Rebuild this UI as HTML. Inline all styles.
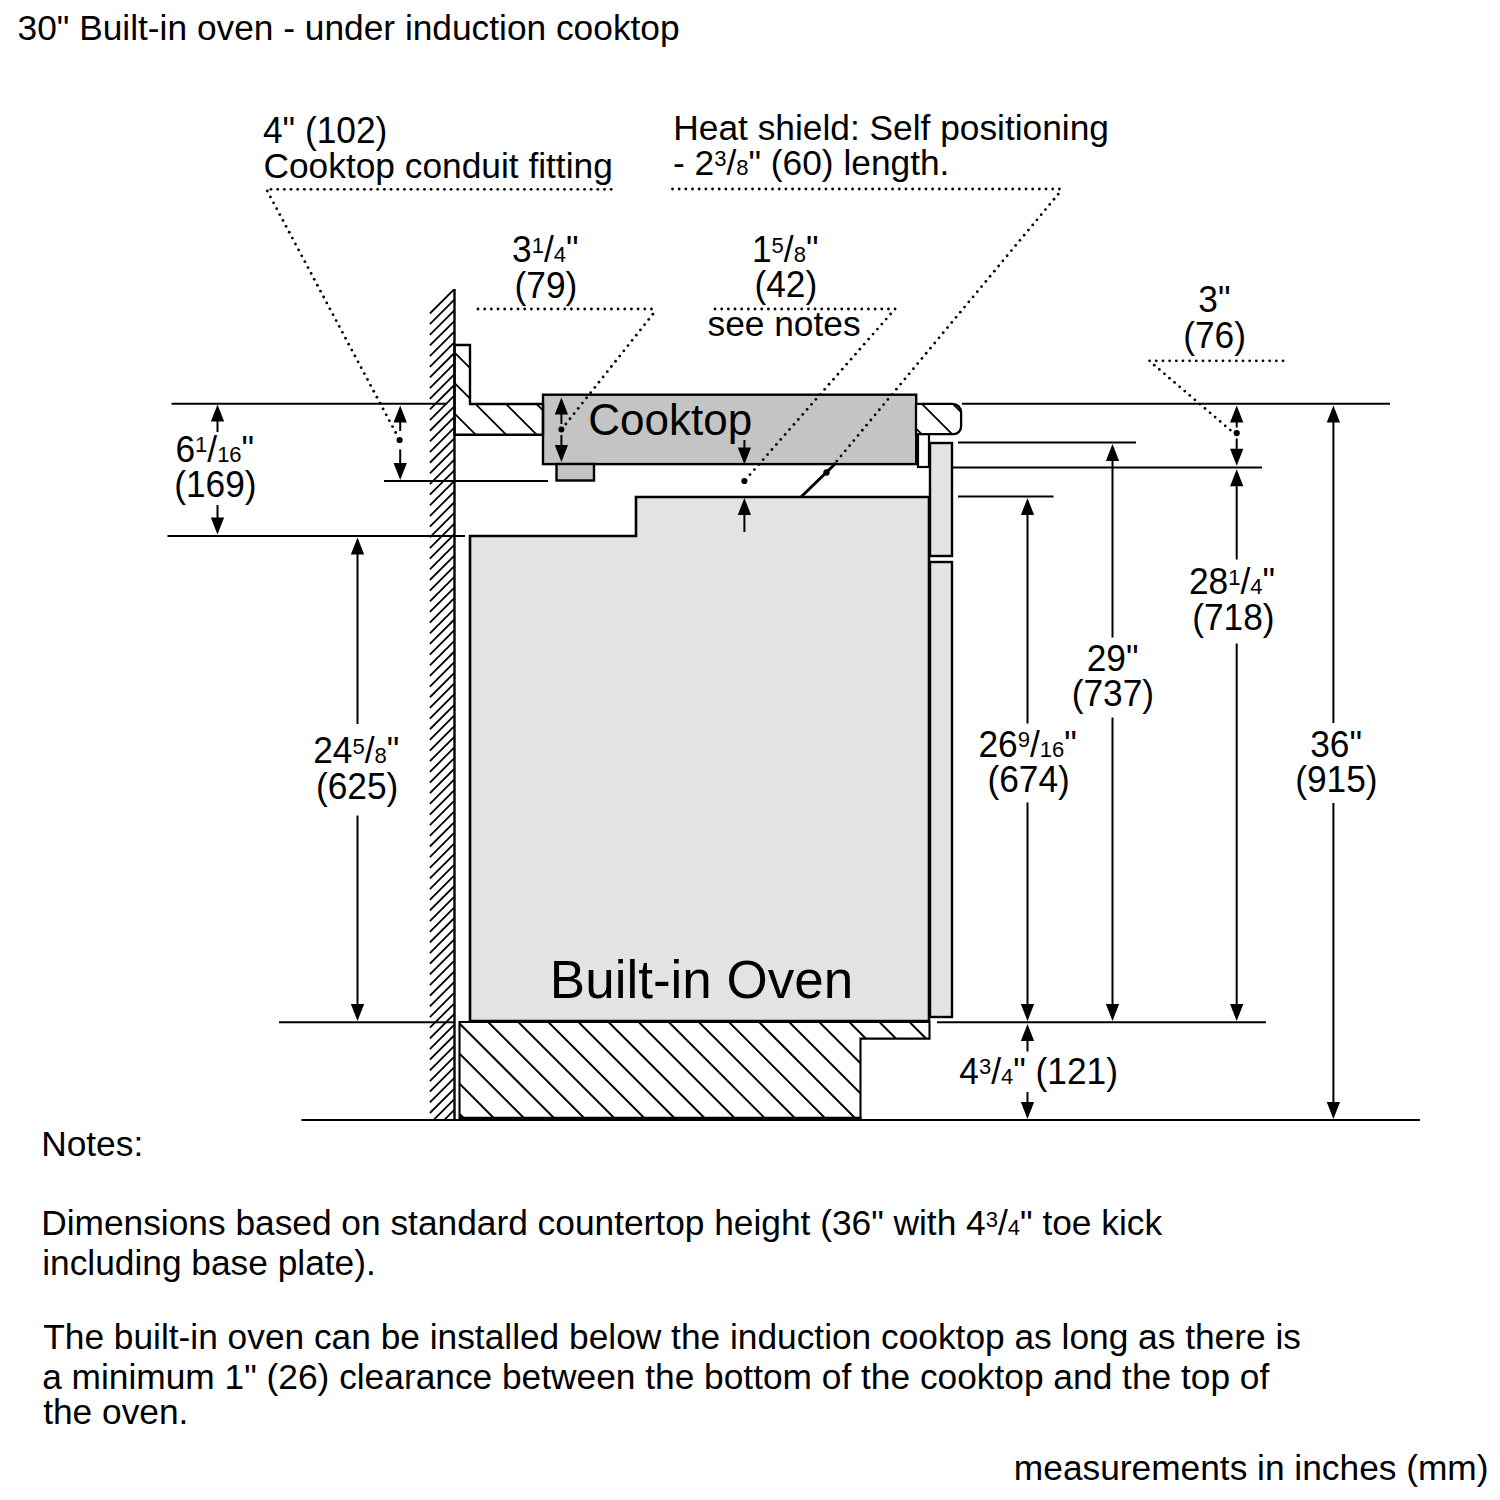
<!DOCTYPE html>
<html><head><meta charset="utf-8"><title>30" Built-in oven - under induction cooktop</title>
<style>html,body{margin:0;padding:0;background:#fff;width:1500px;height:1500px;overflow:hidden}svg{display:block}text{font-family:"Liberation Sans", sans-serif}</style>
</head><body>
<svg width="1500" height="1500" viewBox="0 0 1500 1500" font-family='"Liberation Sans", sans-serif' fill="#000"><polygon points="470,536 636,536 636,497 929,497 929,1021 470,1021" fill="#e3e3e3" stroke="#000" stroke-width="2.6"/>
<rect x="930" y="443" width="22" height="113" fill="#e3e3e3" stroke="#000" stroke-width="2.4"/>
<rect x="930" y="562" width="22" height="455" fill="#e3e3e3" stroke="#000" stroke-width="2.4"/>
<rect x="543" y="394.7" width="373.2" height="69.4" fill="#c4c4c4" stroke="#000" stroke-width="2.4"/>
<rect x="556.5" y="464" width="37.5" height="16.5" fill="#c4c4c4" stroke="#000" stroke-width="2.4"/>
<rect x="918" y="434" width="11" height="33" fill="#fff" stroke="#000" stroke-width="2.2"/>
<line x1="454.5" y1="289" x2="454.5" y2="1120" stroke="#000" stroke-width="2.4" />
<defs><clipPath id="wallclip"><rect x="428" y="289" width="26.5" height="831"/></clipPath><clipPath id="ctclip"><polygon points="454.5,345 470,345 470,404 543,404 543,434.7 454.5,434.7"/></clipPath><clipPath id="tkclip"><polygon points="459.5,1022 929.5,1022 929.5,1038.6 860.5,1038.6 860.5,1118 459.5,1118"/></clipPath><clipPath id="rctclip"><rect x="916" y="404" width="46" height="30" rx="7"/></clipPath></defs>
<g clip-path="url(#wallclip)"><line x1="429.9" y1="313.50" x2="454.1" y2="289.30" stroke="#000" stroke-width="1.8"/><line x1="429.9" y1="324.16" x2="454.1" y2="299.96" stroke="#000" stroke-width="1.8"/><line x1="429.9" y1="334.82" x2="454.1" y2="310.62" stroke="#000" stroke-width="1.8"/><line x1="429.9" y1="345.48" x2="454.1" y2="321.28" stroke="#000" stroke-width="1.8"/><line x1="429.9" y1="356.14" x2="454.1" y2="331.94" stroke="#000" stroke-width="1.8"/><line x1="429.9" y1="366.80" x2="454.1" y2="342.60" stroke="#000" stroke-width="1.8"/><line x1="429.9" y1="377.46" x2="454.1" y2="353.26" stroke="#000" stroke-width="1.8"/><line x1="429.9" y1="388.12" x2="454.1" y2="363.92" stroke="#000" stroke-width="1.8"/><line x1="429.9" y1="398.78" x2="454.1" y2="374.58" stroke="#000" stroke-width="1.8"/><line x1="429.9" y1="409.44" x2="454.1" y2="385.24" stroke="#000" stroke-width="1.8"/><line x1="429.9" y1="420.10" x2="454.1" y2="395.90" stroke="#000" stroke-width="1.8"/><line x1="429.9" y1="430.76" x2="454.1" y2="406.56" stroke="#000" stroke-width="1.8"/><line x1="429.9" y1="441.42" x2="454.1" y2="417.22" stroke="#000" stroke-width="1.8"/><line x1="429.9" y1="452.08" x2="454.1" y2="427.88" stroke="#000" stroke-width="1.8"/><line x1="429.9" y1="462.74" x2="454.1" y2="438.54" stroke="#000" stroke-width="1.8"/><line x1="429.9" y1="473.40" x2="454.1" y2="449.20" stroke="#000" stroke-width="1.8"/><line x1="429.9" y1="484.06" x2="454.1" y2="459.86" stroke="#000" stroke-width="1.8"/><line x1="429.9" y1="494.72" x2="454.1" y2="470.52" stroke="#000" stroke-width="1.8"/><line x1="429.9" y1="505.38" x2="454.1" y2="481.18" stroke="#000" stroke-width="1.8"/><line x1="429.9" y1="516.04" x2="454.1" y2="491.84" stroke="#000" stroke-width="1.8"/><line x1="429.9" y1="526.70" x2="454.1" y2="502.50" stroke="#000" stroke-width="1.8"/><line x1="429.9" y1="537.36" x2="454.1" y2="513.16" stroke="#000" stroke-width="1.8"/><line x1="429.9" y1="548.02" x2="454.1" y2="523.82" stroke="#000" stroke-width="1.8"/><line x1="429.9" y1="558.68" x2="454.1" y2="534.48" stroke="#000" stroke-width="1.8"/><line x1="429.9" y1="569.34" x2="454.1" y2="545.14" stroke="#000" stroke-width="1.8"/><line x1="429.9" y1="580.00" x2="454.1" y2="555.80" stroke="#000" stroke-width="1.8"/><line x1="429.9" y1="590.66" x2="454.1" y2="566.46" stroke="#000" stroke-width="1.8"/><line x1="429.9" y1="601.32" x2="454.1" y2="577.12" stroke="#000" stroke-width="1.8"/><line x1="429.9" y1="611.98" x2="454.1" y2="587.78" stroke="#000" stroke-width="1.8"/><line x1="429.9" y1="622.64" x2="454.1" y2="598.44" stroke="#000" stroke-width="1.8"/><line x1="429.9" y1="633.30" x2="454.1" y2="609.10" stroke="#000" stroke-width="1.8"/><line x1="429.9" y1="643.96" x2="454.1" y2="619.76" stroke="#000" stroke-width="1.8"/><line x1="429.9" y1="654.62" x2="454.1" y2="630.42" stroke="#000" stroke-width="1.8"/><line x1="429.9" y1="665.28" x2="454.1" y2="641.08" stroke="#000" stroke-width="1.8"/><line x1="429.9" y1="675.94" x2="454.1" y2="651.74" stroke="#000" stroke-width="1.8"/><line x1="429.9" y1="686.60" x2="454.1" y2="662.40" stroke="#000" stroke-width="1.8"/><line x1="429.9" y1="697.26" x2="454.1" y2="673.06" stroke="#000" stroke-width="1.8"/><line x1="429.9" y1="707.92" x2="454.1" y2="683.72" stroke="#000" stroke-width="1.8"/><line x1="429.9" y1="718.58" x2="454.1" y2="694.38" stroke="#000" stroke-width="1.8"/><line x1="429.9" y1="729.24" x2="454.1" y2="705.04" stroke="#000" stroke-width="1.8"/><line x1="429.9" y1="739.90" x2="454.1" y2="715.70" stroke="#000" stroke-width="1.8"/><line x1="429.9" y1="750.56" x2="454.1" y2="726.36" stroke="#000" stroke-width="1.8"/><line x1="429.9" y1="761.22" x2="454.1" y2="737.02" stroke="#000" stroke-width="1.8"/><line x1="429.9" y1="771.88" x2="454.1" y2="747.68" stroke="#000" stroke-width="1.8"/><line x1="429.9" y1="782.54" x2="454.1" y2="758.34" stroke="#000" stroke-width="1.8"/><line x1="429.9" y1="793.20" x2="454.1" y2="769.00" stroke="#000" stroke-width="1.8"/><line x1="429.9" y1="803.86" x2="454.1" y2="779.66" stroke="#000" stroke-width="1.8"/><line x1="429.9" y1="814.52" x2="454.1" y2="790.32" stroke="#000" stroke-width="1.8"/><line x1="429.9" y1="825.18" x2="454.1" y2="800.98" stroke="#000" stroke-width="1.8"/><line x1="429.9" y1="835.84" x2="454.1" y2="811.64" stroke="#000" stroke-width="1.8"/><line x1="429.9" y1="846.50" x2="454.1" y2="822.30" stroke="#000" stroke-width="1.8"/><line x1="429.9" y1="857.16" x2="454.1" y2="832.96" stroke="#000" stroke-width="1.8"/><line x1="429.9" y1="867.82" x2="454.1" y2="843.62" stroke="#000" stroke-width="1.8"/><line x1="429.9" y1="878.48" x2="454.1" y2="854.28" stroke="#000" stroke-width="1.8"/><line x1="429.9" y1="889.14" x2="454.1" y2="864.94" stroke="#000" stroke-width="1.8"/><line x1="429.9" y1="899.80" x2="454.1" y2="875.60" stroke="#000" stroke-width="1.8"/><line x1="429.9" y1="910.46" x2="454.1" y2="886.26" stroke="#000" stroke-width="1.8"/><line x1="429.9" y1="921.12" x2="454.1" y2="896.92" stroke="#000" stroke-width="1.8"/><line x1="429.9" y1="931.78" x2="454.1" y2="907.58" stroke="#000" stroke-width="1.8"/><line x1="429.9" y1="942.44" x2="454.1" y2="918.24" stroke="#000" stroke-width="1.8"/><line x1="429.9" y1="953.10" x2="454.1" y2="928.90" stroke="#000" stroke-width="1.8"/><line x1="429.9" y1="963.76" x2="454.1" y2="939.56" stroke="#000" stroke-width="1.8"/><line x1="429.9" y1="974.42" x2="454.1" y2="950.22" stroke="#000" stroke-width="1.8"/><line x1="429.9" y1="985.08" x2="454.1" y2="960.88" stroke="#000" stroke-width="1.8"/><line x1="429.9" y1="995.74" x2="454.1" y2="971.54" stroke="#000" stroke-width="1.8"/><line x1="429.9" y1="1006.40" x2="454.1" y2="982.20" stroke="#000" stroke-width="1.8"/><line x1="429.9" y1="1017.06" x2="454.1" y2="992.86" stroke="#000" stroke-width="1.8"/><line x1="429.9" y1="1027.72" x2="454.1" y2="1003.52" stroke="#000" stroke-width="1.8"/><line x1="429.9" y1="1038.38" x2="454.1" y2="1014.18" stroke="#000" stroke-width="1.8"/><line x1="429.9" y1="1049.04" x2="454.1" y2="1024.84" stroke="#000" stroke-width="1.8"/><line x1="429.9" y1="1059.70" x2="454.1" y2="1035.50" stroke="#000" stroke-width="1.8"/><line x1="429.9" y1="1070.36" x2="454.1" y2="1046.16" stroke="#000" stroke-width="1.8"/><line x1="429.9" y1="1081.02" x2="454.1" y2="1056.82" stroke="#000" stroke-width="1.8"/><line x1="429.9" y1="1091.68" x2="454.1" y2="1067.48" stroke="#000" stroke-width="1.8"/><line x1="429.9" y1="1102.34" x2="454.1" y2="1078.14" stroke="#000" stroke-width="1.8"/><line x1="429.9" y1="1113.00" x2="454.1" y2="1088.80" stroke="#000" stroke-width="1.8"/><line x1="429.9" y1="1123.66" x2="454.1" y2="1099.46" stroke="#000" stroke-width="1.8"/><line x1="429.9" y1="1134.32" x2="454.1" y2="1110.12" stroke="#000" stroke-width="1.8"/><line x1="429.9" y1="1144.98" x2="454.1" y2="1120.78" stroke="#000" stroke-width="1.8"/><line x1="429.9" y1="1155.64" x2="454.1" y2="1131.44" stroke="#000" stroke-width="1.8"/><line x1="429.9" y1="1166.30" x2="454.1" y2="1142.10" stroke="#000" stroke-width="1.8"/></g>
<g clip-path="url(#ctclip)"><line x1="340.5" y1="330" x2="450.5" y2="440" stroke="#000" stroke-width="1.8"/><line x1="371" y1="330" x2="481" y2="440" stroke="#000" stroke-width="1.8"/><line x1="401.5" y1="330" x2="511.5" y2="440" stroke="#000" stroke-width="1.8"/><line x1="432" y1="330" x2="542" y2="440" stroke="#000" stroke-width="1.8"/><line x1="462.5" y1="330" x2="572.5" y2="440" stroke="#000" stroke-width="1.8"/></g>
<polygon points="454.5,345 470,345 470,404 543,404 543,434.7 454.5,434.7" fill="none" stroke="#000" stroke-width="2.4"/>
<defs><clipPath id="rct2"><path d="M916,403.8 L952.5,403.8 A8.6,8.6 0 0 1 961.1,412.4 L961.1,426.5 A7.6,7.6 0 0 1 953.5,434.1 L916,434.1 Z"/></clipPath></defs>
<path d="M916,403.8 L952.5,403.8 A8.6,8.6 0 0 1 961.1,412.4 L961.1,426.5 A7.6,7.6 0 0 1 953.5,434.1 L916,434.1 Z" fill="#fff" stroke="none"/>
<g clip-path="url(#rct2)"><line x1="867.5" y1="380" x2="947.5" y2="460" stroke="#000" stroke-width="1.8"/><line x1="898" y1="380" x2="978" y2="460" stroke="#000" stroke-width="1.8"/><line x1="929" y1="380" x2="1009" y2="460" stroke="#000" stroke-width="1.8"/></g>
<path d="M916,403.8 L952.5,403.8 A8.6,8.6 0 0 1 961.1,412.4 L961.1,426.5 A7.6,7.6 0 0 1 953.5,434.1 L916,434.1 Z" fill="none" stroke="#000" stroke-width="2.3"/>
<g clip-path="url(#tkclip)"><line x1="315.5999999999999" y1="1000" x2="455.5999999999999" y2="1140" stroke="#000" stroke-width="2"/><line x1="345.69999999999993" y1="1000" x2="485.69999999999993" y2="1140" stroke="#000" stroke-width="2"/><line x1="375.79999999999995" y1="1000" x2="515.8" y2="1140" stroke="#000" stroke-width="2"/><line x1="405.9" y1="1000" x2="545.9" y2="1140" stroke="#000" stroke-width="2"/><line x1="436.0" y1="1000" x2="576.0" y2="1140" stroke="#000" stroke-width="2"/><line x1="466.1" y1="1000" x2="606.1" y2="1140" stroke="#000" stroke-width="2"/><line x1="496.20000000000005" y1="1000" x2="636.2" y2="1140" stroke="#000" stroke-width="2"/><line x1="526.3000000000001" y1="1000" x2="666.3000000000001" y2="1140" stroke="#000" stroke-width="2"/><line x1="556.4000000000001" y1="1000" x2="696.4000000000001" y2="1140" stroke="#000" stroke-width="2"/><line x1="586.5000000000001" y1="1000" x2="726.5000000000001" y2="1140" stroke="#000" stroke-width="2"/><line x1="616.6000000000001" y1="1000" x2="756.6000000000001" y2="1140" stroke="#000" stroke-width="2"/><line x1="646.7000000000002" y1="1000" x2="786.7000000000002" y2="1140" stroke="#000" stroke-width="2"/><line x1="676.8000000000002" y1="1000" x2="816.8000000000002" y2="1140" stroke="#000" stroke-width="2"/><line x1="706.9000000000002" y1="1000" x2="846.9000000000002" y2="1140" stroke="#000" stroke-width="2"/><line x1="737.0000000000002" y1="1000" x2="877.0000000000002" y2="1140" stroke="#000" stroke-width="2"/><line x1="767.1000000000003" y1="1000" x2="907.1000000000003" y2="1140" stroke="#000" stroke-width="2"/><line x1="797.2000000000003" y1="1000" x2="937.2000000000003" y2="1140" stroke="#000" stroke-width="2"/><line x1="827.3000000000002" y1="1000" x2="967.3000000000002" y2="1140" stroke="#000" stroke-width="2"/><line x1="857.4000000000002" y1="1000" x2="997.4000000000002" y2="1140" stroke="#000" stroke-width="2"/><line x1="887.5000000000002" y1="1000" x2="1027.5000000000002" y2="1140" stroke="#000" stroke-width="2"/></g>
<polygon points="459.5,1022 929.5,1022 929.5,1038.6 860.5,1038.6 860.5,1118 459.5,1118" fill="none" stroke="#000" stroke-width="2.1"/>
<line x1="459.5" y1="1118.2" x2="861.5" y2="1118.2" stroke="#000" stroke-width="2.8" />
<line x1="171.5" y1="403.7" x2="447" y2="403.7" stroke="#000" stroke-width="2.0" />
<line x1="962" y1="403.7" x2="1390" y2="403.7" stroke="#000" stroke-width="2.0" />
<line x1="384" y1="481" x2="548" y2="481" stroke="#000" stroke-width="2.0" />
<line x1="167.5" y1="536" x2="465" y2="536" stroke="#000" stroke-width="2.0" />
<line x1="958" y1="442.5" x2="1136" y2="442.5" stroke="#000" stroke-width="2.0" />
<line x1="953" y1="467.4" x2="1262" y2="467.4" stroke="#000" stroke-width="2.0" />
<line x1="958" y1="496.5" x2="1053.5" y2="496.5" stroke="#000" stroke-width="2.0" />
<line x1="279" y1="1022.3" x2="455" y2="1022.3" stroke="#000" stroke-width="2.0" />
<line x1="937" y1="1022.3" x2="1266" y2="1022.3" stroke="#000" stroke-width="2.0" />
<line x1="301.5" y1="1120" x2="1420" y2="1120" stroke="#000" stroke-width="2.0" />
<line x1="801" y1="497" x2="836" y2="463" stroke="#000" stroke-width="3" />
<circle cx="826.5" cy="472.5" r="3.2" fill="#000"/>
<line x1="217.5" y1="420" x2="217.5" y2="432" stroke="#000" stroke-width="2.0" />
<polygon points="217.5,404.5 210.85,421.5 224.15,421.5" fill="#000"/>
<line x1="217.5" y1="505" x2="217.5" y2="518" stroke="#000" stroke-width="2.0" />
<polygon points="217.5,534.5 210.85,517.5 224.15,517.5" fill="#000"/>
<line x1="400.2" y1="420" x2="400.2" y2="431" stroke="#000" stroke-width="2.0" />
<polygon points="400.2,405.5 393.55,422.5 406.84999999999997,422.5" fill="#000"/>
<circle cx="399.6" cy="440" r="3.1" fill="#000"/>
<line x1="400.2" y1="449.5" x2="400.2" y2="465" stroke="#000" stroke-width="2.0" />
<polygon points="400.2,480 393.55,463 406.84999999999997,463" fill="#000"/>
<polygon points="357.5,537.5 350.85,554.5 364.15,554.5" fill="#000"/>
<line x1="357.5" y1="553" x2="357.5" y2="724" stroke="#000" stroke-width="2.0" />
<line x1="357.5" y1="815.5" x2="357.5" y2="1006" stroke="#000" stroke-width="2.0" />
<polygon points="357.5,1021 350.85,1004 364.15,1004" fill="#000"/>
<polygon points="561.4,397.5 554.75,414.5 568.05,414.5" fill="#000"/>
<line x1="561.4" y1="413" x2="561.4" y2="424" stroke="#000" stroke-width="2.0" />
<circle cx="561.4" cy="429.6" r="3" fill="#000"/>
<line x1="561.4" y1="435" x2="561.4" y2="446" stroke="#000" stroke-width="2.0" />
<polygon points="561.4,462 554.75,445 568.05,445" fill="#000"/>
<line x1="744.4" y1="440" x2="744.4" y2="449" stroke="#000" stroke-width="2.0" />
<polygon points="744.4,464.5 737.75,447.5 751.05,447.5" fill="#000"/>
<circle cx="744.4" cy="481" r="3.1" fill="#000"/>
<polygon points="744.4,498 737.75,515 751.05,515" fill="#000"/>
<line x1="744.4" y1="513" x2="744.4" y2="532" stroke="#000" stroke-width="2.0" />
<polygon points="1027.5,498 1020.85,515 1034.15,515" fill="#000"/>
<line x1="1027.5" y1="513" x2="1027.5" y2="723.5" stroke="#000" stroke-width="2.0" />
<line x1="1027.5" y1="802.5" x2="1027.5" y2="1006" stroke="#000" stroke-width="2.0" />
<polygon points="1027.5,1021 1020.85,1004 1034.15,1004" fill="#000"/>
<polygon points="1027.5,1024 1020.85,1041 1034.15,1041" fill="#000"/>
<line x1="1027.5" y1="1039" x2="1027.5" y2="1051.5" stroke="#000" stroke-width="2.0" />
<line x1="1027.5" y1="1092" x2="1027.5" y2="1103" stroke="#000" stroke-width="2.0" />
<polygon points="1027.5,1119 1020.85,1102 1034.15,1102" fill="#000"/>
<polygon points="1112.5,444 1105.85,461 1119.15,461" fill="#000"/>
<line x1="1112.5" y1="459" x2="1112.5" y2="637.5" stroke="#000" stroke-width="2.0" />
<line x1="1112.5" y1="717.5" x2="1112.5" y2="1006" stroke="#000" stroke-width="2.0" />
<polygon points="1112.5,1021 1105.85,1004 1119.15,1004" fill="#000"/>
<polygon points="1236.7,405.5 1230.05,422.5 1243.3500000000001,422.5" fill="#000"/>
<line x1="1236.7" y1="421" x2="1236.7" y2="427.5" stroke="#000" stroke-width="2.0" />
<circle cx="1236.7" cy="433.1" r="3.1" fill="#000"/>
<line x1="1236.7" y1="438.5" x2="1236.7" y2="450" stroke="#000" stroke-width="2.0" />
<polygon points="1236.7,465.7 1230.05,448.7 1243.3500000000001,448.7" fill="#000"/>
<polygon points="1236.7,469.2 1230.05,486.2 1243.3500000000001,486.2" fill="#000"/>
<line x1="1236.7" y1="484" x2="1236.7" y2="559.5" stroke="#000" stroke-width="2.0" />
<line x1="1236.7" y1="643.5" x2="1236.7" y2="1006" stroke="#000" stroke-width="2.0" />
<polygon points="1236.7,1021 1230.05,1004 1243.3500000000001,1004" fill="#000"/>
<polygon points="1333.4,405.5 1326.75,422.5 1340.0500000000002,422.5" fill="#000"/>
<line x1="1333.4" y1="421" x2="1333.4" y2="723" stroke="#000" stroke-width="2.0" />
<line x1="1333.4" y1="803" x2="1333.4" y2="1103" stroke="#000" stroke-width="2.0" />
<polygon points="1333.4,1119 1326.75,1102 1340.0500000000002,1102" fill="#000"/>
<g fill="#000"><circle cx="271.00" cy="189.30" r="1.4"/><circle cx="277.67" cy="189.30" r="1.4"/><circle cx="284.34" cy="189.30" r="1.4"/><circle cx="291.01" cy="189.30" r="1.4"/><circle cx="297.68" cy="189.30" r="1.4"/><circle cx="304.35" cy="189.30" r="1.4"/><circle cx="311.02" cy="189.30" r="1.4"/><circle cx="317.69" cy="189.30" r="1.4"/><circle cx="324.36" cy="189.30" r="1.4"/><circle cx="331.03" cy="189.30" r="1.4"/><circle cx="337.70" cy="189.30" r="1.4"/><circle cx="344.37" cy="189.30" r="1.4"/><circle cx="351.04" cy="189.30" r="1.4"/><circle cx="357.71" cy="189.30" r="1.4"/><circle cx="364.38" cy="189.30" r="1.4"/><circle cx="371.05" cy="189.30" r="1.4"/><circle cx="377.72" cy="189.30" r="1.4"/><circle cx="384.39" cy="189.30" r="1.4"/><circle cx="391.06" cy="189.30" r="1.4"/><circle cx="397.73" cy="189.30" r="1.4"/><circle cx="404.40" cy="189.30" r="1.4"/><circle cx="411.07" cy="189.30" r="1.4"/><circle cx="417.74" cy="189.30" r="1.4"/><circle cx="424.41" cy="189.30" r="1.4"/><circle cx="431.08" cy="189.30" r="1.4"/><circle cx="437.75" cy="189.30" r="1.4"/><circle cx="444.42" cy="189.30" r="1.4"/><circle cx="451.09" cy="189.30" r="1.4"/><circle cx="457.76" cy="189.30" r="1.4"/><circle cx="464.43" cy="189.30" r="1.4"/><circle cx="471.10" cy="189.30" r="1.4"/><circle cx="477.77" cy="189.30" r="1.4"/><circle cx="484.44" cy="189.30" r="1.4"/><circle cx="491.11" cy="189.30" r="1.4"/><circle cx="497.78" cy="189.30" r="1.4"/><circle cx="504.45" cy="189.30" r="1.4"/><circle cx="511.12" cy="189.30" r="1.4"/><circle cx="517.79" cy="189.30" r="1.4"/><circle cx="524.46" cy="189.30" r="1.4"/><circle cx="531.13" cy="189.30" r="1.4"/><circle cx="537.80" cy="189.30" r="1.4"/><circle cx="544.47" cy="189.30" r="1.4"/><circle cx="551.14" cy="189.30" r="1.4"/><circle cx="557.81" cy="189.30" r="1.4"/><circle cx="564.48" cy="189.30" r="1.4"/><circle cx="571.15" cy="189.30" r="1.4"/><circle cx="577.82" cy="189.30" r="1.4"/><circle cx="584.49" cy="189.30" r="1.4"/><circle cx="591.16" cy="189.30" r="1.4"/><circle cx="597.83" cy="189.30" r="1.4"/><circle cx="604.50" cy="189.30" r="1.4"/><circle cx="611.17" cy="189.30" r="1.4"/></g>
<g fill="#000"><circle cx="267.30" cy="191.00" r="1.4"/><circle cx="270.43" cy="196.89" r="1.4"/><circle cx="273.56" cy="202.78" r="1.4"/><circle cx="276.69" cy="208.67" r="1.4"/><circle cx="279.82" cy="214.56" r="1.4"/><circle cx="282.95" cy="220.45" r="1.4"/><circle cx="286.08" cy="226.34" r="1.4"/><circle cx="289.21" cy="232.23" r="1.4"/><circle cx="292.34" cy="238.12" r="1.4"/><circle cx="295.47" cy="244.01" r="1.4"/><circle cx="298.60" cy="249.90" r="1.4"/><circle cx="301.73" cy="255.79" r="1.4"/><circle cx="304.86" cy="261.68" r="1.4"/><circle cx="307.98" cy="267.57" r="1.4"/><circle cx="311.11" cy="273.46" r="1.4"/><circle cx="314.24" cy="279.35" r="1.4"/><circle cx="317.37" cy="285.24" r="1.4"/><circle cx="320.50" cy="291.13" r="1.4"/><circle cx="323.63" cy="297.02" r="1.4"/><circle cx="326.76" cy="302.91" r="1.4"/><circle cx="329.89" cy="308.80" r="1.4"/><circle cx="333.02" cy="314.69" r="1.4"/><circle cx="336.15" cy="320.58" r="1.4"/><circle cx="339.28" cy="326.47" r="1.4"/><circle cx="342.41" cy="332.36" r="1.4"/><circle cx="345.54" cy="338.25" r="1.4"/><circle cx="348.67" cy="344.15" r="1.4"/><circle cx="351.80" cy="350.04" r="1.4"/><circle cx="354.93" cy="355.93" r="1.4"/><circle cx="358.06" cy="361.82" r="1.4"/><circle cx="361.19" cy="367.71" r="1.4"/><circle cx="364.32" cy="373.60" r="1.4"/><circle cx="367.45" cy="379.49" r="1.4"/><circle cx="370.58" cy="385.38" r="1.4"/><circle cx="373.71" cy="391.27" r="1.4"/><circle cx="376.84" cy="397.16" r="1.4"/><circle cx="379.97" cy="403.05" r="1.4"/><circle cx="383.10" cy="408.94" r="1.4"/><circle cx="386.23" cy="414.83" r="1.4"/><circle cx="389.35" cy="420.72" r="1.4"/><circle cx="392.48" cy="426.61" r="1.4"/><circle cx="395.61" cy="432.50" r="1.4"/></g>
<g fill="#000"><circle cx="672.50" cy="189.00" r="1.4"/><circle cx="679.17" cy="189.00" r="1.4"/><circle cx="685.84" cy="189.00" r="1.4"/><circle cx="692.51" cy="189.00" r="1.4"/><circle cx="699.18" cy="189.00" r="1.4"/><circle cx="705.85" cy="189.00" r="1.4"/><circle cx="712.52" cy="189.00" r="1.4"/><circle cx="719.19" cy="189.00" r="1.4"/><circle cx="725.86" cy="189.00" r="1.4"/><circle cx="732.53" cy="189.00" r="1.4"/><circle cx="739.20" cy="189.00" r="1.4"/><circle cx="745.87" cy="189.00" r="1.4"/><circle cx="752.54" cy="189.00" r="1.4"/><circle cx="759.21" cy="189.00" r="1.4"/><circle cx="765.88" cy="189.00" r="1.4"/><circle cx="772.55" cy="189.00" r="1.4"/><circle cx="779.22" cy="189.00" r="1.4"/><circle cx="785.89" cy="189.00" r="1.4"/><circle cx="792.56" cy="189.00" r="1.4"/><circle cx="799.23" cy="189.00" r="1.4"/><circle cx="805.90" cy="189.00" r="1.4"/><circle cx="812.57" cy="189.00" r="1.4"/><circle cx="819.24" cy="189.00" r="1.4"/><circle cx="825.91" cy="189.00" r="1.4"/><circle cx="832.58" cy="189.00" r="1.4"/><circle cx="839.25" cy="189.00" r="1.4"/><circle cx="845.92" cy="189.00" r="1.4"/><circle cx="852.59" cy="189.00" r="1.4"/><circle cx="859.26" cy="189.00" r="1.4"/><circle cx="865.93" cy="189.00" r="1.4"/><circle cx="872.60" cy="189.00" r="1.4"/><circle cx="879.27" cy="189.00" r="1.4"/><circle cx="885.94" cy="189.00" r="1.4"/><circle cx="892.61" cy="189.00" r="1.4"/><circle cx="899.28" cy="189.00" r="1.4"/><circle cx="905.95" cy="189.00" r="1.4"/><circle cx="912.62" cy="189.00" r="1.4"/><circle cx="919.29" cy="189.00" r="1.4"/><circle cx="925.96" cy="189.00" r="1.4"/><circle cx="932.63" cy="189.00" r="1.4"/><circle cx="939.30" cy="189.00" r="1.4"/><circle cx="945.97" cy="189.00" r="1.4"/><circle cx="952.64" cy="189.00" r="1.4"/><circle cx="959.31" cy="189.00" r="1.4"/><circle cx="965.98" cy="189.00" r="1.4"/><circle cx="972.65" cy="189.00" r="1.4"/><circle cx="979.32" cy="189.00" r="1.4"/><circle cx="985.99" cy="189.00" r="1.4"/><circle cx="992.66" cy="189.00" r="1.4"/><circle cx="999.33" cy="189.00" r="1.4"/><circle cx="1006.00" cy="189.00" r="1.4"/><circle cx="1012.67" cy="189.00" r="1.4"/><circle cx="1019.34" cy="189.00" r="1.4"/><circle cx="1026.01" cy="189.00" r="1.4"/><circle cx="1032.68" cy="189.00" r="1.4"/><circle cx="1039.35" cy="189.00" r="1.4"/><circle cx="1046.02" cy="189.00" r="1.4"/><circle cx="1052.69" cy="189.00" r="1.4"/><circle cx="1059.36" cy="189.00" r="1.4"/></g>
<g fill="#000"><circle cx="1058.24" cy="194.13" r="1.4"/><circle cx="1053.98" cy="199.27" r="1.4"/><circle cx="1049.72" cy="204.40" r="1.4"/><circle cx="1045.46" cy="209.53" r="1.4"/><circle cx="1041.21" cy="214.67" r="1.4"/><circle cx="1036.95" cy="219.80" r="1.4"/><circle cx="1032.69" cy="224.93" r="1.4"/><circle cx="1028.43" cy="230.07" r="1.4"/><circle cx="1024.17" cy="235.20" r="1.4"/><circle cx="1019.91" cy="240.33" r="1.4"/><circle cx="1015.65" cy="245.47" r="1.4"/><circle cx="1011.39" cy="250.60" r="1.4"/><circle cx="1007.13" cy="255.73" r="1.4"/><circle cx="1002.88" cy="260.87" r="1.4"/><circle cx="998.62" cy="266.00" r="1.4"/><circle cx="994.36" cy="271.13" r="1.4"/><circle cx="990.10" cy="276.27" r="1.4"/><circle cx="985.84" cy="281.40" r="1.4"/><circle cx="981.58" cy="286.53" r="1.4"/><circle cx="977.32" cy="291.67" r="1.4"/><circle cx="973.06" cy="296.80" r="1.4"/><circle cx="968.80" cy="301.93" r="1.4"/><circle cx="964.54" cy="307.07" r="1.4"/><circle cx="960.29" cy="312.20" r="1.4"/><circle cx="956.03" cy="317.33" r="1.4"/><circle cx="951.77" cy="322.47" r="1.4"/><circle cx="947.51" cy="327.60" r="1.4"/><circle cx="943.25" cy="332.73" r="1.4"/><circle cx="938.99" cy="337.86" r="1.4"/><circle cx="934.73" cy="343.00" r="1.4"/><circle cx="930.47" cy="348.13" r="1.4"/><circle cx="926.21" cy="353.26" r="1.4"/><circle cx="921.96" cy="358.40" r="1.4"/><circle cx="917.70" cy="363.53" r="1.4"/><circle cx="913.44" cy="368.66" r="1.4"/><circle cx="909.18" cy="373.80" r="1.4"/><circle cx="904.92" cy="378.93" r="1.4"/><circle cx="900.66" cy="384.06" r="1.4"/><circle cx="896.40" cy="389.20" r="1.4"/><circle cx="892.14" cy="394.33" r="1.4"/><circle cx="887.88" cy="399.46" r="1.4"/><circle cx="883.63" cy="404.60" r="1.4"/><circle cx="879.37" cy="409.73" r="1.4"/><circle cx="875.11" cy="414.86" r="1.4"/><circle cx="870.85" cy="420.00" r="1.4"/><circle cx="866.59" cy="425.13" r="1.4"/><circle cx="862.33" cy="430.26" r="1.4"/><circle cx="858.07" cy="435.40" r="1.4"/><circle cx="853.81" cy="440.53" r="1.4"/><circle cx="849.55" cy="445.66" r="1.4"/><circle cx="845.29" cy="450.80" r="1.4"/><circle cx="841.04" cy="455.93" r="1.4"/><circle cx="836.78" cy="461.06" r="1.4"/></g>
<g fill="#000"><circle cx="478.00" cy="309.00" r="1.4"/><circle cx="484.67" cy="309.00" r="1.4"/><circle cx="491.34" cy="309.00" r="1.4"/><circle cx="498.01" cy="309.00" r="1.4"/><circle cx="504.68" cy="309.00" r="1.4"/><circle cx="511.35" cy="309.00" r="1.4"/><circle cx="518.02" cy="309.00" r="1.4"/><circle cx="524.69" cy="309.00" r="1.4"/><circle cx="531.36" cy="309.00" r="1.4"/><circle cx="538.03" cy="309.00" r="1.4"/><circle cx="544.70" cy="309.00" r="1.4"/><circle cx="551.37" cy="309.00" r="1.4"/><circle cx="558.04" cy="309.00" r="1.4"/><circle cx="564.71" cy="309.00" r="1.4"/><circle cx="571.38" cy="309.00" r="1.4"/><circle cx="578.05" cy="309.00" r="1.4"/><circle cx="584.72" cy="309.00" r="1.4"/><circle cx="591.39" cy="309.00" r="1.4"/><circle cx="598.06" cy="309.00" r="1.4"/><circle cx="604.73" cy="309.00" r="1.4"/><circle cx="611.40" cy="309.00" r="1.4"/><circle cx="618.07" cy="309.00" r="1.4"/><circle cx="624.74" cy="309.00" r="1.4"/><circle cx="631.41" cy="309.00" r="1.4"/><circle cx="638.08" cy="309.00" r="1.4"/><circle cx="644.75" cy="309.00" r="1.4"/><circle cx="651.42" cy="309.00" r="1.4"/></g>
<g fill="#000"><circle cx="652.86" cy="314.23" r="1.4"/><circle cx="648.71" cy="319.45" r="1.4"/><circle cx="644.57" cy="324.68" r="1.4"/><circle cx="640.43" cy="329.91" r="1.4"/><circle cx="636.28" cy="335.13" r="1.4"/><circle cx="632.14" cy="340.36" r="1.4"/><circle cx="628.00" cy="345.59" r="1.4"/><circle cx="623.85" cy="350.82" r="1.4"/><circle cx="619.71" cy="356.04" r="1.4"/><circle cx="615.57" cy="361.27" r="1.4"/><circle cx="611.42" cy="366.50" r="1.4"/><circle cx="607.28" cy="371.72" r="1.4"/><circle cx="603.14" cy="376.95" r="1.4"/><circle cx="598.99" cy="382.18" r="1.4"/><circle cx="594.85" cy="387.40" r="1.4"/><circle cx="590.71" cy="392.63" r="1.4"/><circle cx="586.56" cy="397.86" r="1.4"/><circle cx="582.42" cy="403.09" r="1.4"/><circle cx="578.28" cy="408.31" r="1.4"/><circle cx="574.13" cy="413.54" r="1.4"/><circle cx="569.99" cy="418.77" r="1.4"/><circle cx="565.84" cy="423.99" r="1.4"/></g>
<g fill="#000"><circle cx="715.00" cy="309.00" r="1.4"/><circle cx="721.67" cy="309.00" r="1.4"/><circle cx="728.34" cy="309.00" r="1.4"/><circle cx="735.01" cy="309.00" r="1.4"/><circle cx="741.68" cy="309.00" r="1.4"/><circle cx="748.35" cy="309.00" r="1.4"/><circle cx="755.02" cy="309.00" r="1.4"/><circle cx="761.69" cy="309.00" r="1.4"/><circle cx="768.36" cy="309.00" r="1.4"/><circle cx="775.03" cy="309.00" r="1.4"/><circle cx="781.70" cy="309.00" r="1.4"/><circle cx="788.37" cy="309.00" r="1.4"/><circle cx="795.04" cy="309.00" r="1.4"/><circle cx="801.71" cy="309.00" r="1.4"/><circle cx="808.38" cy="309.00" r="1.4"/><circle cx="815.05" cy="309.00" r="1.4"/><circle cx="821.72" cy="309.00" r="1.4"/><circle cx="828.39" cy="309.00" r="1.4"/><circle cx="835.06" cy="309.00" r="1.4"/><circle cx="841.73" cy="309.00" r="1.4"/><circle cx="848.40" cy="309.00" r="1.4"/><circle cx="855.07" cy="309.00" r="1.4"/><circle cx="861.74" cy="309.00" r="1.4"/><circle cx="868.41" cy="309.00" r="1.4"/><circle cx="875.08" cy="309.00" r="1.4"/><circle cx="881.75" cy="309.00" r="1.4"/><circle cx="888.42" cy="309.00" r="1.4"/><circle cx="895.09" cy="309.00" r="1.4"/></g>
<g fill="#000"><circle cx="890.61" cy="314.02" r="1.4"/><circle cx="886.21" cy="319.04" r="1.4"/><circle cx="881.82" cy="324.05" r="1.4"/><circle cx="877.42" cy="329.07" r="1.4"/><circle cx="873.03" cy="334.09" r="1.4"/><circle cx="868.64" cy="339.11" r="1.4"/><circle cx="864.24" cy="344.13" r="1.4"/><circle cx="859.85" cy="349.15" r="1.4"/><circle cx="855.46" cy="354.16" r="1.4"/><circle cx="851.06" cy="359.18" r="1.4"/><circle cx="846.67" cy="364.20" r="1.4"/><circle cx="842.27" cy="369.22" r="1.4"/><circle cx="837.88" cy="374.24" r="1.4"/><circle cx="833.49" cy="379.26" r="1.4"/><circle cx="829.09" cy="384.27" r="1.4"/><circle cx="824.70" cy="389.29" r="1.4"/><circle cx="820.30" cy="394.31" r="1.4"/><circle cx="815.91" cy="399.33" r="1.4"/><circle cx="811.52" cy="404.35" r="1.4"/><circle cx="807.12" cy="409.36" r="1.4"/><circle cx="802.73" cy="414.38" r="1.4"/><circle cx="798.33" cy="419.40" r="1.4"/><circle cx="793.94" cy="424.42" r="1.4"/><circle cx="789.55" cy="429.44" r="1.4"/><circle cx="785.15" cy="434.46" r="1.4"/><circle cx="780.76" cy="439.47" r="1.4"/><circle cx="776.37" cy="444.49" r="1.4"/><circle cx="771.97" cy="449.51" r="1.4"/><circle cx="767.58" cy="454.53" r="1.4"/><circle cx="763.18" cy="459.55" r="1.4"/><circle cx="758.79" cy="464.57" r="1.4"/><circle cx="754.40" cy="469.58" r="1.4"/><circle cx="750.00" cy="474.60" r="1.4"/></g>
<g fill="#000"><circle cx="1149.60" cy="360.80" r="1.4"/><circle cx="1156.27" cy="360.80" r="1.4"/><circle cx="1162.94" cy="360.80" r="1.4"/><circle cx="1169.61" cy="360.80" r="1.4"/><circle cx="1176.28" cy="360.80" r="1.4"/><circle cx="1182.95" cy="360.80" r="1.4"/><circle cx="1189.62" cy="360.80" r="1.4"/><circle cx="1196.29" cy="360.80" r="1.4"/><circle cx="1202.96" cy="360.80" r="1.4"/><circle cx="1209.63" cy="360.80" r="1.4"/><circle cx="1216.30" cy="360.80" r="1.4"/><circle cx="1222.97" cy="360.80" r="1.4"/><circle cx="1229.64" cy="360.80" r="1.4"/><circle cx="1236.31" cy="360.80" r="1.4"/><circle cx="1242.98" cy="360.80" r="1.4"/><circle cx="1249.65" cy="360.80" r="1.4"/><circle cx="1256.32" cy="360.80" r="1.4"/><circle cx="1262.99" cy="360.80" r="1.4"/><circle cx="1269.66" cy="360.80" r="1.4"/><circle cx="1276.33" cy="360.80" r="1.4"/><circle cx="1283.00" cy="360.80" r="1.4"/></g>
<g fill="#000"><circle cx="1154.27" cy="365.13" r="1.4"/><circle cx="1159.34" cy="369.46" r="1.4"/><circle cx="1164.42" cy="373.80" r="1.4"/><circle cx="1169.49" cy="378.13" r="1.4"/><circle cx="1174.56" cy="382.46" r="1.4"/><circle cx="1179.63" cy="386.79" r="1.4"/><circle cx="1184.70" cy="391.12" r="1.4"/><circle cx="1189.77" cy="395.46" r="1.4"/><circle cx="1194.85" cy="399.79" r="1.4"/><circle cx="1199.92" cy="404.12" r="1.4"/><circle cx="1204.99" cy="408.45" r="1.4"/><circle cx="1210.06" cy="412.78" r="1.4"/><circle cx="1215.13" cy="417.12" r="1.4"/><circle cx="1220.20" cy="421.45" r="1.4"/><circle cx="1225.28" cy="425.78" r="1.4"/><circle cx="1230.35" cy="430.11" r="1.4"/></g>
<text x="17.6" y="0" transform="translate(0 40) scale(1 1.0)" font-size="35.3" text-anchor="start" >30" Built-in oven - under induction cooktop</text>
<text x="263" y="0" transform="translate(0 142.7) scale(1 1.04)" font-size="35.3" text-anchor="start" >4" (102)</text>
<text x="263.5" y="0" transform="translate(0 177.5) scale(1 1.0)" font-size="35.3" text-anchor="start" >Cooktop conduit fitting</text>
<text x="673.3" y="0" transform="translate(0 140.3) scale(1 1.0)" font-size="35.3" text-anchor="start" >Heat shield: Self positioning</text>
<text x="673" y="0" transform="translate(0 175) scale(1 1.0)" font-size="35.3" text-anchor="start" >- 2<tspan font-size="22" dy="-8.8">3</tspan><tspan dy="8.8">/</tspan><tspan font-size="22">8</tspan>" (60) length.</text>
<text x="512.1" y="0" transform="translate(0 261.8) scale(1 1.04)" font-size="35.3" text-anchor="start" >3<tspan font-size="22" dy="-8.8">1</tspan><tspan dy="8.8">/</tspan><tspan font-size="22">4</tspan>"</text>
<text x="514.5" y="0" transform="translate(0 297.5) scale(1 1.04)" font-size="35.3" text-anchor="start" >(79)</text>
<text x="707.5" y="0" transform="translate(0 335.6) scale(1 1.0)" font-size="35.3" text-anchor="start" >see notes</text>
<text x="1198.3" y="0" transform="translate(0 311.8) scale(1 1.04)" font-size="35.3" text-anchor="start" >3"</text>
<text x="1183.25" y="0" transform="translate(0 348) scale(1 1.04)" font-size="35.3" text-anchor="start" >(76)</text>
<text x="588.3" y="0" transform="translate(0 434.6) scale(1 1.0)" font-size="44" text-anchor="start" >Cooktop</text>
<text x="175.45" y="0" transform="translate(0 461.5) scale(1 1.04)" font-size="35.3" text-anchor="start" >6<tspan font-size="22" dy="-8.8">1</tspan><tspan dy="8.8">/</tspan><tspan font-size="22">16</tspan>"</text>
<text x="174.25" y="0" transform="translate(0 497.2) scale(1 1.04)" font-size="35.3" text-anchor="start" >(169)</text>
<text x="313.25" y="0" transform="translate(0 763) scale(1 1.04)" font-size="35.3" text-anchor="start" >24<tspan font-size="22" dy="-8.8">5</tspan><tspan dy="8.8">/</tspan><tspan font-size="22">8</tspan>"</text>
<text x="316.0" y="0" transform="translate(0 798.5) scale(1 1.04)" font-size="35.3" text-anchor="start" >(625)</text>
<text x="1188.9" y="0" transform="translate(0 593.9) scale(1 1.04)" font-size="35.3" text-anchor="start" >28<tspan font-size="22" dy="-8.8">1</tspan><tspan dy="8.8">/</tspan><tspan font-size="22">4</tspan>"</text>
<text x="1192.15" y="0" transform="translate(0 630) scale(1 1.04)" font-size="35.3" text-anchor="start" >(718)</text>
<text x="1086.75" y="0" transform="translate(0 670.5) scale(1 1.04)" font-size="35.3" text-anchor="start" >29"</text>
<text x="1071.75" y="0" transform="translate(0 706) scale(1 1.04)" font-size="35.3" text-anchor="start" >(737)</text>
<text x="978.5" y="0" transform="translate(0 756.6) scale(1 1.04)" font-size="35.3" text-anchor="start" >26<tspan font-size="22" dy="-8.8">9</tspan><tspan dy="8.8">/</tspan><tspan font-size="22">16</tspan>"</text>
<text x="987.45" y="0" transform="translate(0 791.6) scale(1 1.04)" font-size="35.3" text-anchor="start" >(674)</text>
<text x="1310.25" y="0" transform="translate(0 756.6) scale(1 1.04)" font-size="35.3" text-anchor="start" >36"</text>
<text x="1295.25" y="0" transform="translate(0 791.6) scale(1 1.04)" font-size="35.3" text-anchor="start" >(915)</text>
<text x="549.85" y="0" transform="translate(0 997.6) scale(1 1.0)" font-size="53" text-anchor="start" >Built-in Oven</text>
<text x="959.35" y="0" transform="translate(0 1083.6) scale(1 1.04)" font-size="35.3" text-anchor="start" >4<tspan font-size="22" dy="-8.8">3</tspan><tspan dy="8.8">/</tspan><tspan font-size="22">4</tspan>" (121)</text>
<text x="41.2" y="0" transform="translate(0 1156) scale(1 1.0)" font-size="35.3" text-anchor="start" >Notes:</text>
<text x="41.2" y="0" transform="translate(0 1235.3) scale(1 1.0)" font-size="35.3" text-anchor="start" >Dimensions based on standard countertop height (36" with 4<tspan font-size="22" dy="-8.8">3</tspan><tspan dy="8.8">/</tspan><tspan font-size="22">4</tspan>" toe kick</text>
<text x="42.2" y="0" transform="translate(0 1275.2) scale(1 1.0)" font-size="35.3" text-anchor="start" >including base plate).</text>
<text x="43.2" y="0" transform="translate(0 1349.4) scale(1 1.0)" font-size="35.3" text-anchor="start" >The built-in oven can be installed below the induction cooktop as long as there is</text>
<text x="42.2" y="0" transform="translate(0 1388.9) scale(1 1.0)" font-size="35.3" text-anchor="start" >a minimum 1" (26) clearance between the bottom of the cooktop and the top of</text>
<text x="43.2" y="0" transform="translate(0 1423.9) scale(1 1.0)" font-size="35.3" text-anchor="start" >the oven.</text>
<text x="1013.85" y="0" transform="translate(0 1480) scale(1 1.0)" font-size="35.3" text-anchor="start" >measurements in inches (mm)</text>
<text x="752.0" y="0" transform="translate(0 261.8) scale(1 1.04)" font-size="35.3" text-anchor="start" >1<tspan font-size="22" dy="-8.8">5</tspan><tspan dy="8.8">/</tspan><tspan font-size="22">8</tspan>"</text>
<text x="754.5" y="0" transform="translate(0 297) scale(1 1.04)" font-size="35.3" text-anchor="start" >(42)</text></svg>
</body></html>
